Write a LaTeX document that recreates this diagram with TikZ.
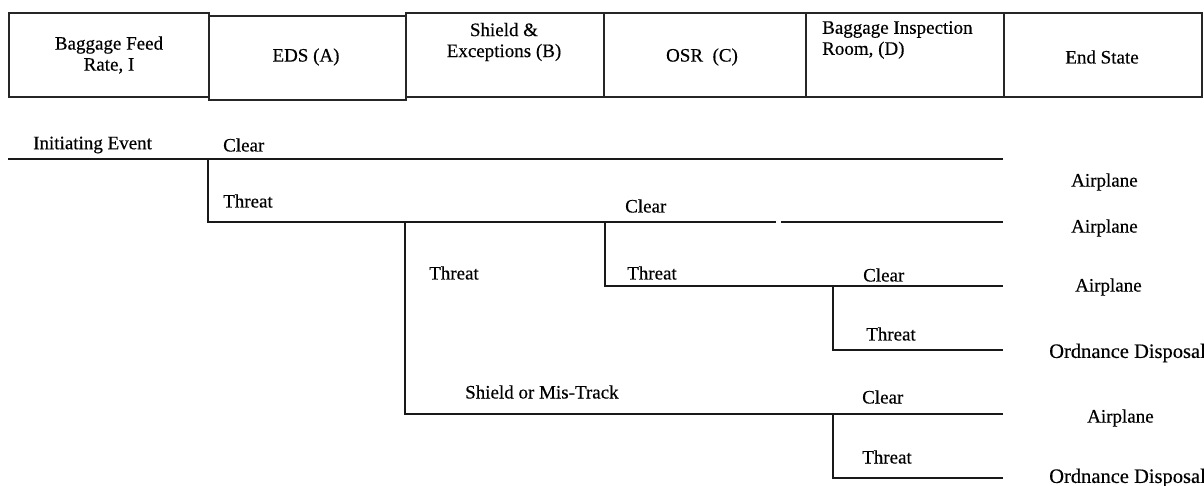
\documentclass[tikz,border=0pt]{standalone}
\usepackage{fontspec}
\setmainfont{Liberation Serif}[FakeBold=0.4]
\begin{document}
\begin{tikzpicture}[x=1pt,y=-1pt,
  txt/.style={font=\fontsize{19}{21}\selectfont, inner sep=0pt, text=black},
  headbox/.style={draw=black!85, line width=2.2pt, rectangle, inner sep=0pt,
    minimum height=84pt, anchor=north west},
  branch/.style={draw=black!90, line width=1.6pt},
  endlbl/.style={txt, anchor=west},
  lbl/.style={txt, anchor=west}]
\useasboundingbox (0,0) rectangle (1204,486);

% column headers
\node[headbox, minimum width=200pt] (hI) at (8,12) {};
\node[headbox, minimum width=197pt] (hA) at (208,15) {};
\node[headbox, minimum width=198pt] (hB) at (405,12) {};
\node[headbox, minimum width=202pt] (hC) at (603,12) {};
\node[headbox, minimum width=198pt] (hD) at (805,12) {};
\node[headbox, minimum width=198pt] (hE) at (1003,12) {};

\node[txt, align=center] (tI) at (109,55) {Baggage Feed\\Rate, I};
\node[txt] (tA) at (306,57) {EDS (A)};
\node[txt, align=center] (tB) at (504,42) {Shield \&\\Exceptions (B)};
\node[txt] (tC) at (702,57) {OSR\ \ (C)};
\node[txt, align=left, anchor=west] (tD) at (822,40) {Baggage Inspection\\Room, (D)};
\node[txt] (tE) at (1102,57) {End State};

% branch points of the event tree
\coordinate (start) at (8,159);
\coordinate (a) at (208,159);
\coordinate (aClr) at (1003,159);
\coordinate (aThr) at (208,222);
\coordinate (b) at (405,222);
\coordinate (c) at (605,222);
\coordinate (gapL) at (776,222);
\coordinate (gapR) at (781,222);
\coordinate (bClr) at (1003,222);
\coordinate (bShd) at (405,414);
\coordinate (cThr) at (605,286);
\coordinate (cClr) at (1003,286);
\coordinate (d1) at (833,286);
\coordinate (d1Thr) at (833,350);
\coordinate (d1End) at (1003,350);
\coordinate (d2) at (833,414);
\coordinate (d2Clr) at (1003,414);
\coordinate (d2Thr) at (833,478);
\coordinate (d2End) at (1003,478);

\draw[branch] (start) -- (aClr);
\draw[branch] (a) -- (aThr) -- (gapL);
\draw[branch] (gapR) -- (bClr);
\draw[branch] (b) -- (bShd) -- (d2Clr);
\draw[branch] (c) -- (cThr) -- (cClr);
\draw[branch] (d1) -- (d1Thr) -- (d1End);
\draw[branch] (d2) -- (d2Thr) -- (d2End);

% branch labels
\node[lbl] (lInit) at (33,145) {Initiating Event};
\node[lbl] (lAClr) at (223,145) {Clear};
\node[lbl] (lAThr) at (223,201) {Threat};
\node[lbl] (lBClr) at (625,206) {Clear};
\node[lbl] (lBThr) at (429,273) {Threat};
\node[lbl] (lCThr) at (627,273) {Threat};
\node[lbl] (lCClr) at (863,275) {Clear};
\node[lbl] (lD1Thr) at (866,334) {Threat};
\node[lbl] (lShd) at (465,392) {Shield or Mis-Track};
\node[lbl] (lD2Clr) at (862,397) {Clear};
\node[lbl] (lD2Thr) at (862,457) {Threat};

% end states
\node[endlbl] (e1) at (1071,182) {Airplane};
\node[endlbl] (e2) at (1071,228) {Airplane};
\node[endlbl] (e3) at (1075,287) {Airplane};
\node[txt, font=\fontsize{20.5}{22}\selectfont, anchor=east] (e4) at (1206,353) {Ordnance Disposal};
\node[endlbl] (e5) at (1087,418) {Airplane};
\node[txt, font=\fontsize{20.5}{22}\selectfont, anchor=east] (e6) at (1206,478) {Ordnance Disposal};
\end{tikzpicture}
\end{document}
